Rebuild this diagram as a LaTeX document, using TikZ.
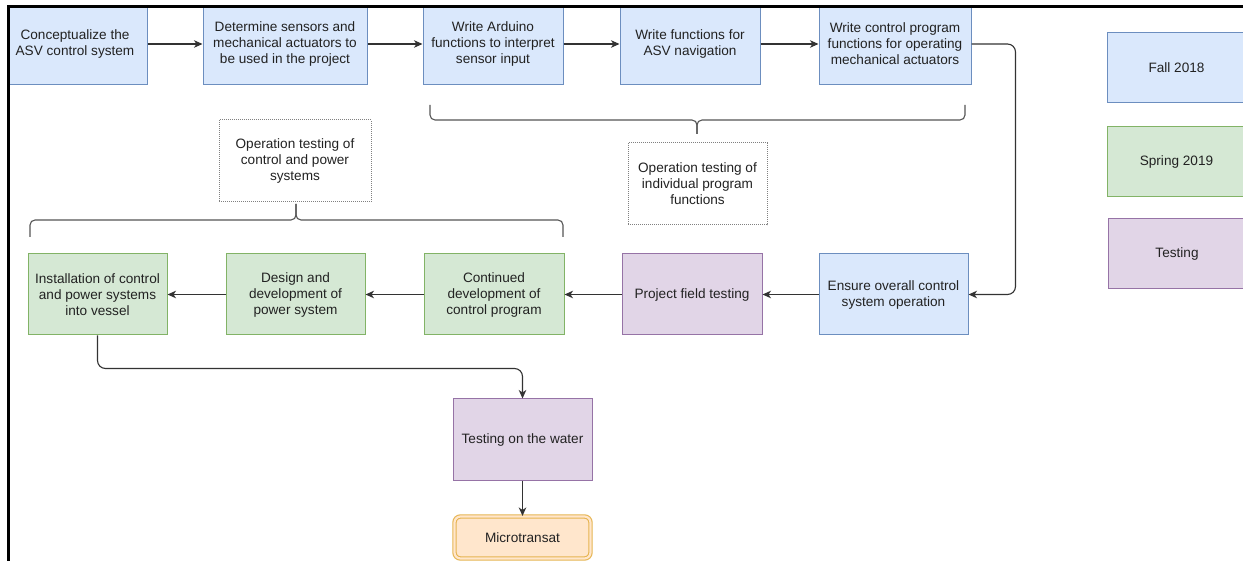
\documentclass[tikz,border=0pt]{standalone}
\usepackage{fontspec}
\setmainfont{Liberation Sans}
\usetikzlibrary{arrows.meta}
\definecolor{bfill}{HTML}{DAE8FC}
\definecolor{bdraw}{HTML}{6C8EBF}
\definecolor{gfill}{HTML}{D5E8D4}
\definecolor{gdraw}{HTML}{82B366}
\definecolor{pfill}{HTML}{E1D5E7}
\definecolor{pdraw}{HTML}{9673A6}
\definecolor{ofill}{HTML}{FFE6CC}
\definecolor{odraw}{HTML}{E6B450}
\definecolor{txt}{HTML}{222222}
\definecolor{linec}{HTML}{333333}
\definecolor{bracec}{HTML}{555555}
\tikzset{
  box/.style={draw, line width=1pt, inner sep=0pt, align=center, text=txt,
    font=\fontsize{13.6}{16}\selectfont},
  bluebox/.style={box, fill=bfill, draw=bdraw},
  greenbox/.style={box, fill=gfill, draw=gdraw},
  purplebox/.style={box, fill=pfill, draw=pdraw},
  finalbox/.style={box, fill=ofill, draw=odraw, double=ofill, double distance=2.2pt, line width=1.1pt, rounded corners=6pt},
  notebox/.style={box, draw=gray, densely dotted, fill=white},
  conn/.style={draw=linec, line width=1.1pt, -{Stealth[length=8.5pt,width=7.5pt,inset=2.5pt]}},
  bracket/.style={draw=bracec, line width=1.1pt, rounded corners=5pt}
}
\begin{document}
\begin{tikzpicture}[x=1pt,y=-1pt]
\clip (0,0) rectangle (1243,561);
\fill[white] (0,0) rectangle (1243,561);
% row 1
\node[bluebox, minimum width=144pt, minimum height=82pt] (c1) at (75,44) {Conceptualize the\\ASV control system};
\node[bluebox, minimum width=164pt, minimum height=82pt] (c2) at (285,44) {Determine sensors and\\mechanical actuators to\\be used in the project};
\node[bluebox, minimum width=140pt, minimum height=82pt] (c3) at (493,44) {Write Arduino\\functions to interpret\\sensor input};
\node[bluebox, minimum width=140pt, minimum height=82pt] (c4) at (690,44) {Write functions for\\ASV navigation};
\node[bluebox, minimum width=152pt, minimum height=82pt] (c5) at (895,44) {Write control program\\functions for operating\\mechanical actuators};
% row 2
\node[greenbox, minimum width=139pt, minimum height=81pt] (install) at (97.5,294.5) {Installation of control\\and power systems\\into vessel};
\node[greenbox, minimum width=139pt, minimum height=81pt] (design) at (295.5,294.5) {Design and\\development of\\power system};
\node[greenbox, minimum width=140pt, minimum height=81pt] (cont) at (494,294.5) {Continued\\development of\\control program};
\node[purplebox, minimum width=140pt, minimum height=81pt] (proj) at (692,294.5) {Project field testing};
\node[bluebox, minimum width=149pt, minimum height=81pt] (ensure) at (893.5,294.5) {Ensure overall control\\system operation};
% bottom
\node[purplebox, minimum width=139pt, minimum height=81pt] (water) at (522.5,439.5) {Testing on the water};
\node[finalbox, minimum width=136pt, minimum height=42pt] (micro) at (522.5,537.5) {Microtransat};
% notes
\node[notebox, minimum width=139pt, minimum height=82pt] (note1) at (697.5,184) {Operation testing of\\individual program\\functions};
\node[notebox, minimum width=152pt, minimum height=82pt] (note2) at (295,161) {Operation testing of\\control and power\\systems};
% braces
\coordinate (b1tip) at (697,134);
\draw[bracket] (430,105) -- (430,120) -| (b1tip);
\draw[bracket] (965,105) -- (965,120) -| (b1tip);
\coordinate (b2tip) at (296,204);
\draw[bracket] (30,237) -- (30,220) -| (b2tip);
\draw[bracket] (563,237) -- (563,220) -| (b2tip);
% legend
\node[bluebox, minimum width=139pt, minimum height=70pt] (fall) at (1176.5,68) {Fall 2018};
\node[greenbox, minimum width=139pt, minimum height=70pt] (spring) at (1176.5,162) {Spring 2019};
\node[purplebox, minimum width=138pt, minimum height=70pt] (test) at (1177,254) {Testing};
% connectors
\draw[conn] (c1.east) -- (c2.west);
\draw[conn] (c2.east) -- (c3.west);
\draw[conn] (c3.east) -- (c4.west);
\draw[conn] (c4.east) -- (c5.west);
\draw[conn, rounded corners=8pt] (c5.east) -- ++(44,0) |- (ensure.east);
\draw[conn] (ensure.west) -- (proj.east);
\draw[conn] (proj.west) -- (cont.east);
\draw[conn] (cont.west) -- (design.east);
\draw[conn] (design.west) -- (install.east);
\draw[conn, rounded corners=8pt] (install.south) -- ++(0,33) -| (water.north);
\draw[conn] (water.south) -- (micro.north);
% screenshot frame
\fill[white] (0,0) rectangle (8,561);
\fill[white] (0,0) rectangle (1243,6);
\draw[line width=2.8pt, black] (8.5,561) -- (8.5,6.2) -- (1243,6.2);
\end{tikzpicture}
\end{document}
